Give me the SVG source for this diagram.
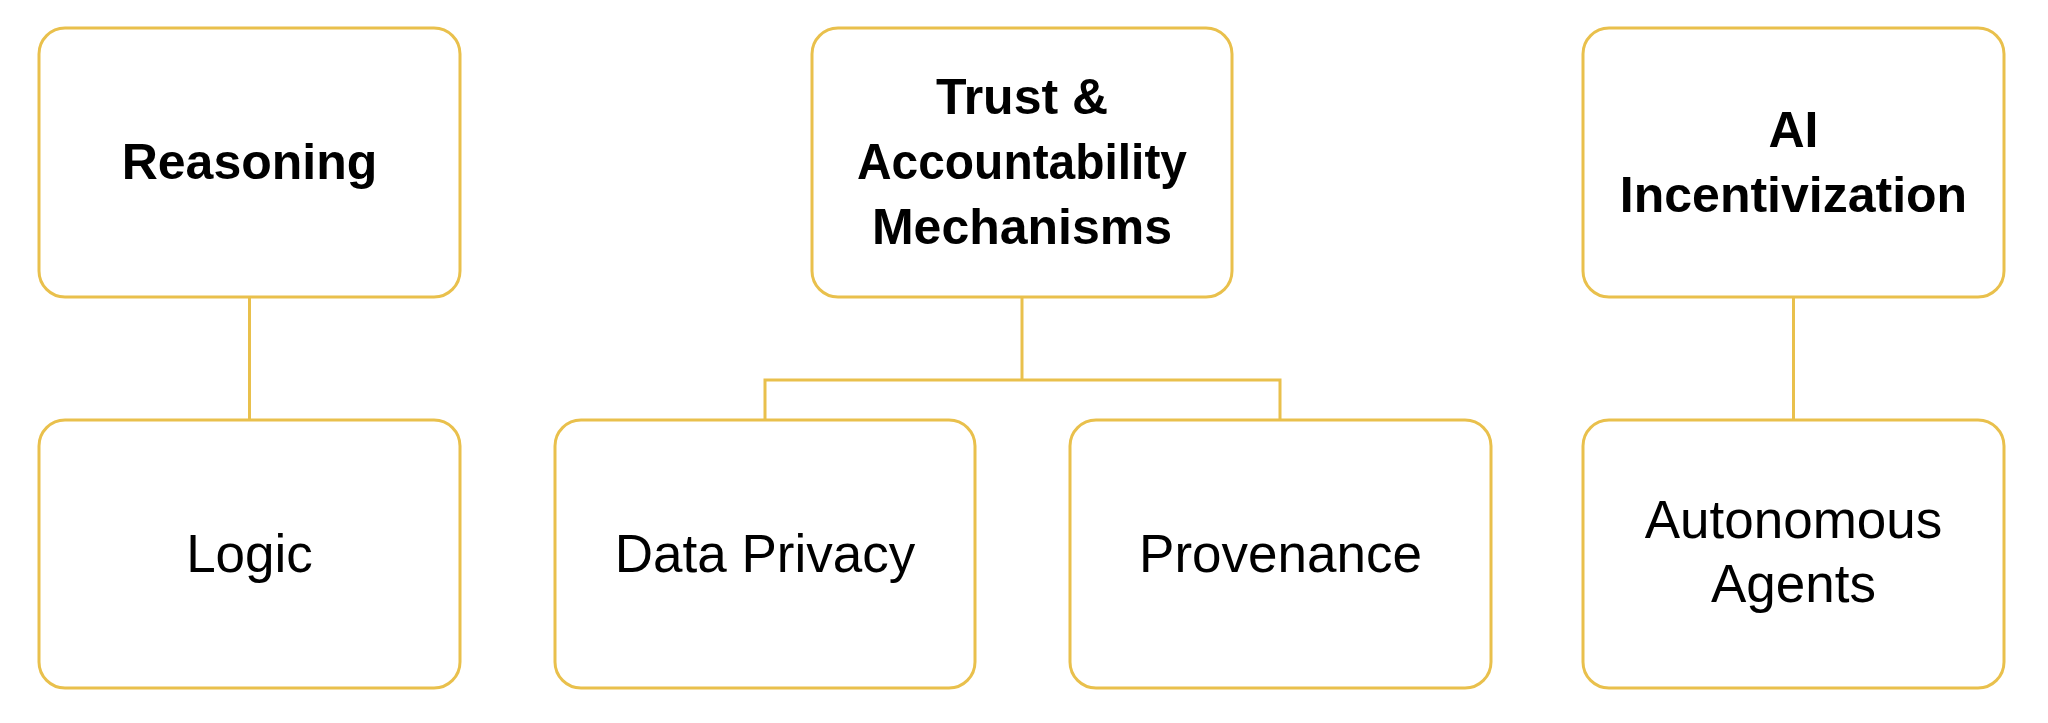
<svg xmlns="http://www.w3.org/2000/svg" width="2048" height="723" viewBox="0 0 2048 723">
<style>
.box{fill:#ffffff;stroke:#E9C04C;stroke-width:3}
.conn{fill:none;stroke:#E9C04C;stroke-width:3}
.b{font-family:"Liberation Sans",Arial,sans-serif;font-weight:bold;font-size:50px;fill:#000;text-anchor:middle}
.r{font-family:"Liberation Sans",Arial,sans-serif;font-size:53px;fill:#000;text-anchor:middle}
</style>
<rect width="2048" height="723" fill="#ffffff"/>
<g id="connectors">
<line class="conn" x1="249.5" y1="297" x2="249.5" y2="420"/>
<polyline class="conn" points="1022,297 1022,380"/>
<polyline class="conn" points="765,420 765,380 1280,380 1280,420"/>
<line class="conn" x1="1793.5" y1="297" x2="1793.5" y2="420"/>
</g>
<g id="reasoning">
<rect class="box" x="39" y="28" width="421" height="269" rx="26"/>
<text class="b" x="249.5" y="179">Reasoning</text>
</g>
<g id="trust">
<rect class="box" x="812" y="28" width="420" height="269" rx="26"/>
<text class="b" x="1022" y="114">Trust &amp;</text>
<text class="b" x="1022" y="179" textLength="330" lengthAdjust="spacingAndGlyphs">Accountability</text>
<text class="b" x="1022" y="244">Mechanisms</text>
</g>
<g id="ai">
<rect class="box" x="1583" y="28" width="421" height="269" rx="26"/>
<text class="b" x="1793.5" y="147">AI</text>
<text class="b" x="1793.5" y="212">Incentivization</text>
</g>
<g id="logic">
<rect class="box" x="39" y="420" width="421" height="268" rx="26"/>
<text class="r" x="249.5" y="572">Logic</text>
</g>
<g id="dataprivacy">
<rect class="box" x="555" y="420" width="420" height="268" rx="26"/>
<text class="r" x="765" y="572">Data Privacy</text>
</g>
<g id="provenance">
<rect class="box" x="1070" y="420" width="421" height="268" rx="26"/>
<text class="r" x="1280.5" y="572">Provenance</text>
</g>
<g id="autonomous">
<rect class="box" x="1583" y="420" width="421" height="268" rx="26"/>
<text class="r" x="1793.5" y="538">Autonomous</text>
<text class="r" x="1793.5" y="602">Agents</text>
</g>
</svg>
